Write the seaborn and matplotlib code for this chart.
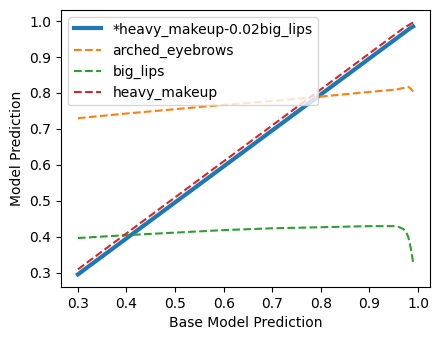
import matplotlib
matplotlib.use("Agg")
import matplotlib.pyplot as plt
import seaborn as sns

# base model prediction grid
x = [0.3, 0.4, 0.5, 0.6, 0.7, 0.8, 0.9, 0.95, 0.96, 0.97, 0.975, 0.98, 0.985, 0.99]

# model predictions
combo = [0.296, 0.396, 0.496, 0.596, 0.696, 0.796, 0.896, 0.946, 0.956, 0.966, 0.971, 0.976, 0.981, 0.985]
arched_eyebrows = [0.730, 0.743, 0.755, 0.767, 0.778, 0.790, 0.803, 0.809, 0.811, 0.814, 0.816, 0.817, 0.812, 0.804]
big_lips = [0.397, 0.405, 0.412, 0.419, 0.424, 0.427, 0.430, 0.430, 0.428, 0.422, 0.415, 0.400, 0.370, 0.330]
heavy_makeup = [0.310, 0.410, 0.510, 0.610, 0.710, 0.810, 0.910, 0.960, 0.970, 0.980, 0.984, 0.988, 0.992, 0.996]

fig, ax = plt.subplots(figsize=(4.4, 3.4), dpi=100)

sns.lineplot(x=x, y=combo, ax=ax, color='C0', linewidth=3, label='*heavy_makeup-0.02big_lips')
sns.lineplot(x=x, y=arched_eyebrows, ax=ax, color='C1', linestyle='--', label='arched_eyebrows')
sns.lineplot(x=x, y=big_lips, ax=ax, color='C2', linestyle='--', label='big_lips')
sns.lineplot(x=x, y=heavy_makeup, ax=ax, color='C3', linestyle='--', label='heavy_makeup')

ax.set_xlabel('Base Model Prediction')
ax.set_ylabel('Model Prediction')
ax.legend(loc='upper left')

fig.subplots_adjust(left=0.139, right=0.977, top=0.971, bottom=0.156)
fig.savefig('out.png')
